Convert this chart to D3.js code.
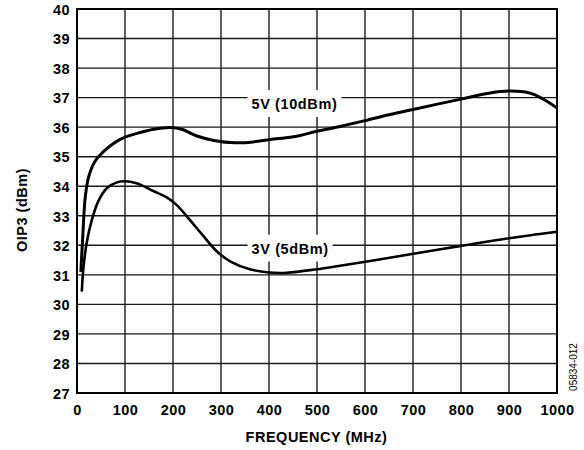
<!DOCTYPE html>
<html>
<head>
<meta charset="utf-8">
<script src="https://cdn.jsdelivr.net/npm/d3@7"></script>
<style>
  html, body { margin: 0; padding: 0; background: #fff; }
  svg { display: block; }
  text { font-family: "Liberation Sans", Arial, Helvetica, sans-serif; fill: #000; }
</style>
</head>
<body>
<svg id="chart" width="584" height="450"></svg>
<script>
// ---- data ----
const xTicks = [0, 100, 200, 300, 400, 500, 600, 700, 800, 900, 1000];
const yTicks = [27, 28, 29, 30, 31, 32, 33, 34, 35, 36, 37, 38, 39, 40];

const freq5V = [8, 12, 17, 24, 37, 55, 76, 100, 125, 160, 195, 220, 250, 285, 330, 367, 402, 444, 465, 500, 550, 600, 650, 700, 800, 855, 900, 945, 970, 1000];
const oip5V  = [31.1, 32.3, 33.6, 34.3, 34.83, 35.17, 35.45, 35.66, 35.79, 35.93, 35.99, 35.92, 35.7, 35.55, 35.47, 35.5, 35.58, 35.66, 35.72, 35.86, 36.03, 36.22, 36.42, 36.6, 36.95, 37.14, 37.22, 37.15, 36.96, 36.65];

const freq3V = [10, 13, 20, 31, 44, 62, 83, 100, 124, 159, 187, 208, 235, 260, 291, 320, 360, 400, 437, 500, 548, 604, 673, 800, 900, 1000];
const oip3V  = [30.43, 31.16, 32.07, 32.86, 33.48, 33.93, 34.13, 34.17, 34.1, 33.84, 33.62, 33.36, 32.86, 32.38, 31.8, 31.45, 31.19, 31.08, 31.07, 31.19, 31.31, 31.45, 31.64, 31.98, 32.24, 32.46];

const seriesNames = ["5V (10dBm)", "3V (5dBm)"];
const xTitle = "FREQUENCY (MHz)";
const yTitle = "OIP3 (dBm)";
const figCode = "05834-012";

// ---- layout ----
const margin = { left: 77, top: 9, right: 27, bottom: 57 };
const W = 584, H = 450;
const iw = W - margin.left - margin.right;   // 480
const ih = H - margin.top - margin.bottom;   // 384

const svg = d3.select("#chart");
const g = svg.append("g").attr("transform", `translate(${margin.left},${margin.top})`);

const x = d3.scaleLinear().domain([0, 1000]).range([0, iw]);
const y = d3.scaleLinear().domain([27, 40]).range([ih, 0]);

// grid
g.append("g").selectAll("line.v").data(xTicks.slice(1, -1)).join("line")
  .attr("x1", d => x(d)).attr("x2", d => x(d)).attr("y1", 0).attr("y2", ih)
  .attr("stroke", "#1a1a1a").attr("stroke-width", 1.4);
g.append("g").selectAll("line.h").data(yTicks.slice(1, -1)).join("line")
  .attr("y1", d => y(d)).attr("y2", d => y(d)).attr("x1", 0).attr("x2", iw)
  .attr("stroke", "#1a1a1a").attr("stroke-width", 1.4);

// axes tick labels
const fontSize = 14.5;
const xAxis = d3.axisBottom(x).tickValues(xTicks).tickSize(0).tickPadding(0).tickFormat(d3.format("d"));
const xa = g.append("g").attr("transform", `translate(0,${ih})`).call(xAxis);
xa.select(".domain").remove();
xa.selectAll("text").attr("y", 22).attr("dy", null)
  .style("font-size", fontSize + "px").style("font-weight", "bold")
  .style("font-family", '"Liberation Sans", Arial, sans-serif').attr("fill", "#000")
  .style("letter-spacing", "0.4px");

const yAxis = d3.axisLeft(y).tickValues(yTicks).tickSize(0).tickPadding(7).tickFormat(d3.format("d"));
const ya = g.append("g").call(yAxis);
ya.select(".domain").remove();
ya.selectAll("text").attr("dy", "0.36em")
  .style("font-size", fontSize + "px").style("font-weight", "bold")
  .style("font-family", '"Liberation Sans", Arial, sans-serif').attr("fill", "#000")
  .style("letter-spacing", "0.4px");

// series labels with white background (drawn before curves)
const labelPos = [
  { name: seriesNames[0], f: 453, v: 36.6 },
  { name: seriesNames[1], f: 444, v: 31.70 }
];
labelPos.forEach(l => {
  const t = g.append("text")
    .attr("x", x(l.f)).attr("y", y(l.v))
    .attr("text-anchor", "middle")
    .style("font-size", fontSize + "px").style("font-weight", "bold")
    .style("letter-spacing", "0.6px")
    .text(l.name);
  const bb = t.node().getBBox();
  g.insert("rect", () => t.node())
    .attr("x", bb.x - 4).attr("y", y(l.v) - 19.5)
    .attr("width", bb.width + 8).attr("height", 27)
    .attr("fill", "#fff");
});

// curves
const line = d3.line().x(d => x(d[0])).y(d => y(d[1])).curve(d3.curveCatmullRom.alpha(0.5));
const data5 = freq5V.map((f, i) => [f, oip5V[i]]);
const data3 = freq3V.map((f, i) => [f, oip3V[i]]);
g.append("path").datum(data5).attr("d", line)
  .attr("fill", "none").attr("stroke", "#000").attr("stroke-width", 3).attr("stroke-linejoin", "round").attr("stroke-linecap", "butt");
g.append("path").datum(data3).attr("d", line)
  .attr("fill", "none").attr("stroke", "#000").attr("stroke-width", 2.6).attr("stroke-linejoin", "round").attr("stroke-linecap", "butt");

// frame
g.append("rect").attr("x", 0).attr("y", 0).attr("width", iw).attr("height", ih)
  .attr("fill", "none").attr("stroke", "#000").attr("stroke-width", 2);

// axis titles
svg.append("text")
  .attr("x", margin.left + iw / 2 - 0.5).attr("y", 442)
  .attr("text-anchor", "middle")
  .style("font-size", fontSize + "px").style("font-weight", "bold").style("letter-spacing", "0.5px")
  .text(xTitle);
svg.append("text")
  .attr("transform", `translate(27,${margin.top + ih / 2 + 9}) rotate(-90)`)
  .attr("text-anchor", "middle")
  .style("font-size", fontSize + "px").style("font-weight", "bold").style("letter-spacing", "0.5px")
  .text(yTitle);

// figure code
svg.append("text")
  .attr("transform", `translate(577,367) rotate(-90)`)
  .attr("text-anchor", "middle")
  .style("font-size", "10px")
  .text(figCode);
</script>
</body>
</html>
